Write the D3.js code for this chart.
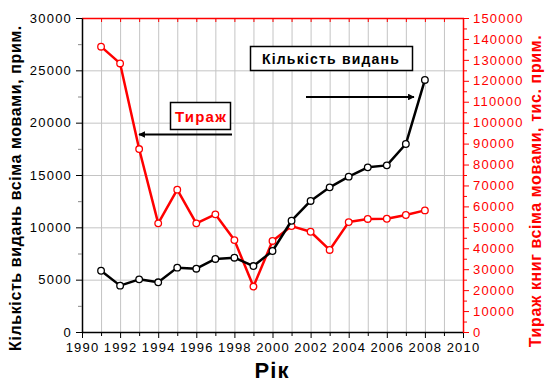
<!DOCTYPE html>
<html>
<head>
<meta charset="utf-8">
<script src="https://cdn.jsdelivr.net/npm/d3@7"></script>
<style>
  body { margin: 0; background: #fff; }
  svg { display: block; font-family: Arial, "Liberation Sans", sans-serif; }
  .tick text { font-size: 13px; letter-spacing: 1.2px; }
</style>
</head>
<body>
<svg id="chart" width="550" height="385"></svg>
<script>
// years and both series
var years = [1991, 1992, 1993, 1994, 1995, 1996, 1997, 1998, 1999, 2000,
             2001, 2002, 2003, 2004, 2005, 2006, 2007, 2008];
var editions = [5850, 4430, 5030, 4750, 6150, 6050, 6980, 7100, 6300, 7740,
                10630, 12520, 13820, 14840, 15730, 15920, 17960, 24080];
var printRun = [136300, 128300, 87400, 51900, 68000, 51900, 56200, 43900, 21700, 43500,
                50600, 47900, 39200, 52500, 54000, 54100, 55900, 58100];
var xTicks = d3.range(1990, 2011, 2);
var leftTicks = d3.range(0, 30001, 5000);
var rightTicks = d3.range(0, 150001, 10000);

var svg = d3.select('#chart');
var plot = { left: 82, right: 463, top: 18, bottom: 332 };

var x = d3.scaleLinear().domain([1990, 2010]).range([plot.left, plot.right]);
var yL = d3.scaleLinear().domain([0, 30000]).range([plot.bottom, plot.top]);
var yR = d3.scaleLinear().domain([0, 150000]).range([plot.bottom, plot.top]);

// grid
var grid = svg.append('g').attr('stroke', '#c4c4c4').attr('stroke-width', 1);
grid.selectAll('line.v').data(d3.range(1991, 2010)).enter().append('line')
  .attr('x1', d => x(d) + 0.5).attr('x2', d => x(d) + 0.5)
  .attr('y1', plot.top).attr('y2', plot.bottom);
grid.selectAll('line.h').data(leftTicks.slice(1, -1)).enter().append('line')
  .attr('y1', d => yL(d) + 0.5).attr('y2', d => yL(d) + 0.5)
  .attr('x1', plot.left).attr('x2', plot.right);

// top red edge with small ticks
svg.append('line').attr('x1', plot.left).attr('x2', plot.right + 1)
  .attr('y1', plot.top + 0.5).attr('y2', plot.top + 0.5)
  .attr('stroke', '#ff0000').attr('stroke-width', 1.5);
svg.append('g').selectAll('line').data(d3.range(1991, 2010)).enter().append('line')
  .attr('x1', d => x(d) + 0.5).attr('x2', d => x(d) + 0.5)
  .attr('y1', plot.top).attr('y2', plot.top + 4)
  .attr('stroke', '#ff0000');

// bottom axis
var xAxis = svg.append('g').attr('transform', 'translate(0,' + plot.bottom + ')')
  .call(d3.axisBottom(x).tickValues(xTicks).tickFormat(d3.format('d')).tickSize(6).tickSizeOuter(0).tickPadding(5));
xAxis.selectAll('.domain').attr('stroke', '#000').attr('stroke-width', 1.5);
xAxis.selectAll('text').attr('fill', '#000');
svg.append('g').selectAll('line').data(d3.range(1991, 2010, 2)).enter().append('line')
  .attr('x1', d => x(d) + 0.5).attr('x2', d => x(d) + 0.5)
  .attr('y1', plot.bottom).attr('y2', plot.bottom + 4).attr('stroke', '#000');

// left axis
var yAxisL = svg.append('g').attr('transform', 'translate(' + plot.left + ',0)')
  .call(d3.axisLeft(yL).tickValues(leftTicks).tickFormat(d3.format('d')).tickSize(6).tickSizeOuter(0).tickPadding(4));
yAxisL.selectAll('.domain').attr('stroke', '#000').attr('stroke-width', 1.5);
yAxisL.selectAll('text').attr('fill', '#000');
svg.append('g').selectAll('line').data(d3.range(2500, 30000, 5000)).enter().append('line')
  .attr('y1', d => yL(d) + 0.5).attr('y2', d => yL(d) + 0.5)
  .attr('x1', plot.left - 4).attr('x2', plot.left).attr('stroke', '#888');

// right axis
var yAxisR = svg.append('g').attr('transform', 'translate(' + plot.right + ',0)')
  .call(d3.axisRight(yR).tickValues(rightTicks).tickFormat(d3.format('d')).tickSize(6).tickSizeOuter(0).tickPadding(4));
yAxisR.selectAll('.domain').attr('stroke', '#ff0000').attr('stroke-width', 1.5);
yAxisR.selectAll('.tick line').attr('stroke', '#ff0000');
yAxisR.selectAll('text').attr('fill', '#ff0000');
svg.append('g').selectAll('line').data(d3.range(5000, 150000, 10000)).enter().append('line')
  .attr('y1', d => yR(d) + 0.5).attr('y2', d => yR(d) + 0.5)
  .attr('x1', plot.right).attr('x2', plot.right + 4).attr('stroke', '#ff0000');

// series
function drawSeries(values, scale, color) {
  var line = d3.line().x((d, i) => x(years[i])).y(d => scale(d));
  svg.append('path').datum(values)
    .attr('d', line).attr('fill', 'none')
    .attr('stroke', color).attr('stroke-width', 2.5).attr('stroke-linejoin', 'round');
  svg.append('g').selectAll('circle').data(values).enter().append('circle')
    .attr('cx', (d, i) => x(years[i])).attr('cy', d => scale(d)).attr('r', 3.3)
    .attr('fill', '#fff').attr('stroke', color).attr('stroke-width', 1.3);
}
drawSeries(printRun, yR, '#ff0000');
drawSeries(editions, yL, '#000');

// annotations
svg.append('defs').append('marker')
  .attr('id', 'arr').attr('viewBox', '0 0 10 10').attr('refX', 9).attr('refY', 5)
  .attr('markerWidth', 4).attr('markerHeight', 3).attr('orient', 'auto')
  .attr('markerUnits', 'strokeWidth')
  .append('path').attr('d', 'M0,0 L10,5 L0,10 z').attr('fill', '#000');

svg.append('rect').attr('x', 250.5).attr('y', 46.5).attr('width', 162).attr('height', 24)
  .attr('fill', '#fff').attr('stroke', '#000').attr('stroke-width', 1.5);
svg.append('text').attr('x', 331).attr('y', 64).attr('text-anchor', 'middle')
  .attr('font-size', 14).attr('font-weight', 'bold').attr('letter-spacing', 1.2)
  .text('Кількість видань');
svg.append('line').attr('x1', 306).attr('x2', 414).attr('y1', 97).attr('y2', 97)
  .attr('stroke', '#000').attr('stroke-width', 2.2).attr('marker-end', 'url(#arr)');

svg.append('rect').attr('x', 170.5).attr('y', 102.5).attr('width', 60).attr('height', 27)
  .attr('fill', '#fff').attr('stroke', '#000').attr('stroke-width', 1.5);
svg.append('text').attr('x', 201).attr('y', 122).attr('text-anchor', 'middle')
  .attr('font-size', 15).attr('font-weight', 'bold').attr('letter-spacing', 1.2)
  .attr('fill', '#ff0000').text('Тираж');
svg.append('line').attr('x1', 232).attr('x2', 139).attr('y1', 134.5).attr('y2', 134.5)
  .attr('stroke', '#000').attr('stroke-width', 2.2).attr('marker-end', 'url(#arr)');

// axis titles
svg.append('text').attr('transform', 'translate(21,188) rotate(-90)')
  .attr('text-anchor', 'middle').attr('font-size', 16).attr('font-weight', 'bold')
  .attr('letter-spacing', 0.6).text('Кількість видань всіма мовами, прим.');
svg.append('text').attr('transform', 'translate(541,191) rotate(-90)')
  .attr('text-anchor', 'middle').attr('font-size', 16).attr('font-weight', 'bold')
  .attr('letter-spacing', 0.6).attr('fill', '#ff0000').text('Тираж книг всіма мовами, тис. прим.');
svg.append('text').attr('x', 272).attr('y', 378).attr('text-anchor', 'middle')
  .attr('font-size', 22).attr('font-weight', 'bold').attr('letter-spacing', 1).text('Рік');
</script>
</body>
</html>
